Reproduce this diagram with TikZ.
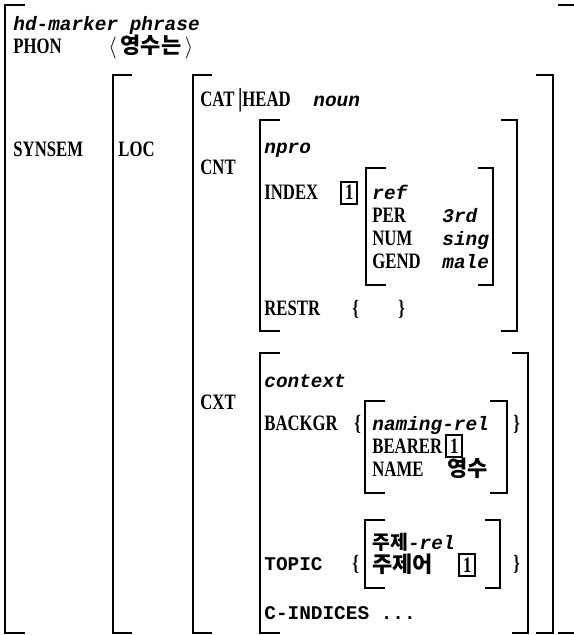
\documentclass[tikz,border=0pt]{standalone}
\usepackage{fontspec}
\setmainfont{Liberation Serif}[FakeStretch=0.76]
\newfontfamily\monof{Liberation Mono}
\newfontfamily\kor{Noto Sans CJK KR}
\newcommand\tagbox[1]{{\setlength\fboxsep{1.3pt}\setlength\fboxrule{1pt}\fbox{\rmfamily\bfseries\upshape #1}}}

\begin{document}
\begin{tikzpicture}[x=0.5pt,y=-0.5pt,
  brk/.style={line width=1pt},
  attr/.style={anchor=base west,inner sep=0pt,font=\fontsize{11}{13}\selectfont\bfseries},
  typ/.style={attr,font=\fontsize{9.7}{12}\selectfont\monof\bfseries\itshape},
  tt/.style={attr,font=\fontsize{9.7}{12}\selectfont\monof\bfseries},
  kr/.style={attr,font=\fontsize{11}{12}\selectfont\kor\bfseries}]
\useasboundingbox (0,0) rectangle (573,635);

% outer brackets
\draw[brk] (25,5) -- (5,5) -- (5,633) -- (25,633)
      (558,5) -- (576,5) -- (576,633) -- (558,633)
      (132,75) -- (113,75) -- (113,633) -- (132,633)
      (212,75) -- (193,75) -- (193,633) -- (212,633)
      (536,75) -- (553,75) -- (553,633) -- (536,633);

% CNT and CXT
\draw[brk] (280,120) -- (260,120) -- (260,331) -- (280,331)
      (501,120) -- (517,120) -- (517,331) -- (501,331)
      (280,353) -- (260,353) -- (260,633) -- (280,633)
      (512,353) -- (528,353) -- (528,633) -- (512,633);

% inner brackets
\draw[brk] (386,168) -- (366,168) -- (366,285) -- (386,285)
      (478,168) -- (493,168) -- (493,285) -- (478,285)
      (385,401) -- (365,401) -- (365,493) -- (385,493)
      (490,401) -- (507,401) -- (507,493) -- (490,493)
      (385,520) -- (365,520) -- (365,588) -- (385,588)
      (485,520) -- (500,520) -- (500,588) -- (485,588);

% top level
\node[typ] (hd) at (13,31) {hd-marker phrase};
\node[attr] (phon) at (13,54) {PHON};
\node[kr] (phonval) at (108,54) {$\langle$\,영수는\,$\rangle$};
\node[attr] (synsem) at (13,157) {SYNSEM};
\node[attr] (loc) at (118,157) {LOC};

% LOC value
\node[attr] (cathead) at (200,107) {CAT\,{\fontsize{13}{13}\selectfont|}HEAD};
\node[typ] (noun) at (313,107) {noun};
\node[attr] (cnt) at (200,175) {CNT};
\node[attr] (cxt) at (200,409) {CXT};

% CNT value
\node[typ] (npro) at (264,154) {npro};
\node[attr] (index) at (264,200) {INDEX};
\node[attr] (indextag) at (340,200) {\tagbox{1}};
\node[typ] (ref) at (372,200) {ref};
\node[attr] (per) at (372,223) {PER};
\node[typ] (perval) at (442,223) {3rd};
\node[attr] (num) at (372,246) {NUM};
\node[typ] (numval) at (442,246) {sing};
\node[attr] (gend) at (372,269) {GEND};
\node[typ] (gendval) at (442,269) {male};
\node[attr] (restr) at (264,315) {RESTR};
\node[attr] (restropen) at (352,315) {\{};
\node[attr] (restrclose) at (398,315) {\}};

% CXT value
\node[typ] (context) at (264,387) {context};
\node[attr] (backgr) at (264,430) {BACKGR};
\node[attr] (bgopen) at (354,430) {\{};
\node[typ] (naming) at (372,430) {naming-rel};
\node[attr] (bearer) at (372,453) {BEARER};
\node[attr] (bearertag) at (445,453) {\tagbox{1}};
\node[attr] (name) at (372,476) {NAME};
\node[kr] (nameval) at (447,476) {영수};
\node[attr] (bgclose) at (513,430) {\}};
\node[typ] (topicrel) at (372,549) {{\kor\upshape 주제}-rel};
\node[kr] (topicarg) at (372,572) {주제어};
\node[attr] (topictag) at (458,572) {\tagbox{1}};
\node[tt] (topic) at (264,570) {TOPIC};
\node[attr] (topicopen) at (352,570) {\{};
\node[attr] (topicclose) at (513,570) {\}};
\node[tt] (cind) at (264,619) {C-INDICES ...};
\end{tikzpicture}
\end{document}
